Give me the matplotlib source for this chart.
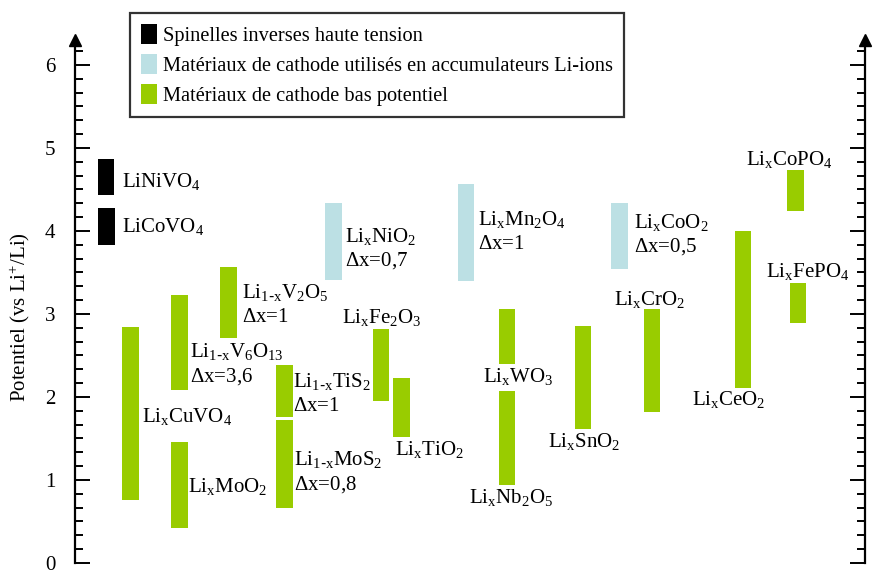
import matplotlib.pyplot as plt
from matplotlib.ticker import MultipleLocator
from matplotlib.patches import Patch

plt.rcParams['font.family'] = ['Liberation Serif', 'DejaVu Serif']
plt.rcParams['mathtext.default'] = 'regular'

# materiaux, bornes de potentiel (V vs Li+/Li) et famille
materials = ['LiNiVO4', 'LiCoVO4', 'LixCuVO4', 'Li1-xV6O13', 'LixMoO2',
             'Li1-xV2O5', 'Li1-xTiS2', 'Li1-xMoS2', 'LixNiO2', 'LixFe2O3',
             'LixTiO2', 'LixMn2O4', 'LixWO3', 'LixNb2O5', 'LixSnO2',
             'LixCoO2', 'LixCrO2', 'LixCeO2', 'LixCoPO4', 'LixFePO4']
v_high = [4.87, 4.28, 2.84, 3.23, 1.46, 3.57, 2.39, 1.72, 4.34, 2.82,
          2.23, 4.57, 3.06, 2.07, 2.86, 4.34, 3.06, 4.00, 4.73, 3.37]
v_low = [4.43, 3.83, 0.76, 2.08, 0.42, 2.71, 1.76, 0.66, 3.41, 1.95,
         1.52, 3.40, 2.40, 0.94, 1.61, 3.54, 1.82, 2.11, 4.24, 2.89]
family = [0, 0, 2, 2, 2, 2, 2, 2, 1, 2, 2, 1, 2, 2, 2, 1, 2, 2, 2, 2]

legend_labels = ['Spinelles inverses haute tension',
                 'Matériaux de cathode utilisés en accumulateurs Li-ions',
                 'Matériaux de cathode bas potentiel']
colors = ['#000000', '#bce0e4', '#99cc00']

# etiquettes (formule + delta x eventuel)
labels = [r'LiNiVO$_4$', r'LiCoVO$_4$', r'Li$_x$CuVO$_4$',
          r'Li$_{1\text{-}x}$V$_6$O$_{13}$', r'Li$_x$MoO$_2$',
          r'Li$_{1\text{-}x}$V$_2$O$_5$', r'Li$_{1\text{-}x}$TiS$_2$',
          r'Li$_{1\text{-}x}$MoS$_2$', r'Li$_x$NiO$_2$',
          r'Li$_x$Fe$_2$O$_3$', r'Li$_x$TiO$_2$', r'Li$_x$Mn$_2$O$_4$',
          r'Li$_x$WO$_3$', r'Li$_x$Nb$_2$O$_5$', r'Li$_x$SnO$_2$',
          r'Li$_x$CoO$_2$', r'Li$_x$CrO$_2$', r'Li$_x$CeO$_2$',
          r'Li$_x$CoPO$_4$', r'Li$_x$FePO$_4$']
delta_x = ['', '', '', '3,6', '', '1', '1', '0,8', '0,7', '', '', '1',
           '', '', '', '0,5', '', '', '', '']

# positions horizontales des barres et des etiquettes
xpos = [31, 31.5, 55.5, 104.5, 104.5, 153.5, 209.5, 209.5, 258.5, 306,
        326.5, 391, 432, 432, 508, 544.5, 577, 668, 720.5, 723]
label_xy = [(47, 4.53), (47, 3.99), (67, 1.70), (115, 2.48), (113, 0.86),
            (167, 3.19), (218, 2.12), (219, 1.18), (270, 3.87), (267, 2.89),
            (320, 1.30), (403, 4.07), (408, 2.18), (394, 0.72), (473, 1.40),
            (559, 4.04), (539, 3.11), (617, 1.90), (671, 4.80), (691, 3.45)]

fig = plt.figure(figsize=(8.79, 5.75), dpi=100)
ax = fig.add_axes([75 / 879, 12 / 575, 790 / 879, 523 / 575])

for x, lo, hi, f in zip(xpos, v_low, v_high, family):
    ax.bar(x, hi - lo, bottom=lo, width=16.5, color=colors[f], linewidth=0)

for txt, dx, (tx, ty) in zip(labels, delta_x, label_xy):
    ax.text(tx, ty, txt, fontsize=15, ha='left', va='baseline')
    if dx:
        ax.text(tx, ty - 0.29, r'$\Delta$x=' + dx, fontsize=15,
                ha='left', va='baseline')

ax.set_xlim(0, 790)
ax.set_ylim(0, 6.3)
ax.spines['top'].set_visible(False)
ax.spines['bottom'].set_visible(False)
for s in ('left', 'right'):
    ax.spines[s].set_linewidth(1.6)
ax.set_xticks([])
ax.yaxis.set_major_locator(MultipleLocator(1))
ax.yaxis.set_minor_locator(MultipleLocator(1 / 6))
ax.tick_params(axis='y', which='both', direction='in', left=True, right=True,
               labelleft=True, labelright=True, labelsize=15, width=1.4)
ax.tick_params(axis='y', which='major', length=11, pad=14)
ax.tick_params(axis='y', which='minor', length=5.5)
ax.set_ylabel(r'Potentiel (vs Li$^{{+}}$/Li)', fontsize=15)
ax.yaxis.set_label_coords(-0.054, 0.47)

# fleches en haut des axes
ax.plot([0, 1], [1, 1], '^', color='black', markersize=9,
        transform=ax.transAxes, clip_on=False)

handles = [Patch(facecolor=c, edgecolor='none') for c in colors]
leg = fig.legend(handles, legend_labels, loc='upper left',
                 bbox_to_anchor=(130 / 879, 1 - 13 / 575), fontsize=14.7,
                 frameon=True, fancybox=False, edgecolor='black',
                 handlelength=0.75, handleheight=1.15, handletextpad=0.3,
                 labelspacing=0.38, borderpad=0.55, borderaxespad=0)
leg.get_frame().set_linewidth(1.6)

fig.savefig('out.png', dpi=100)
